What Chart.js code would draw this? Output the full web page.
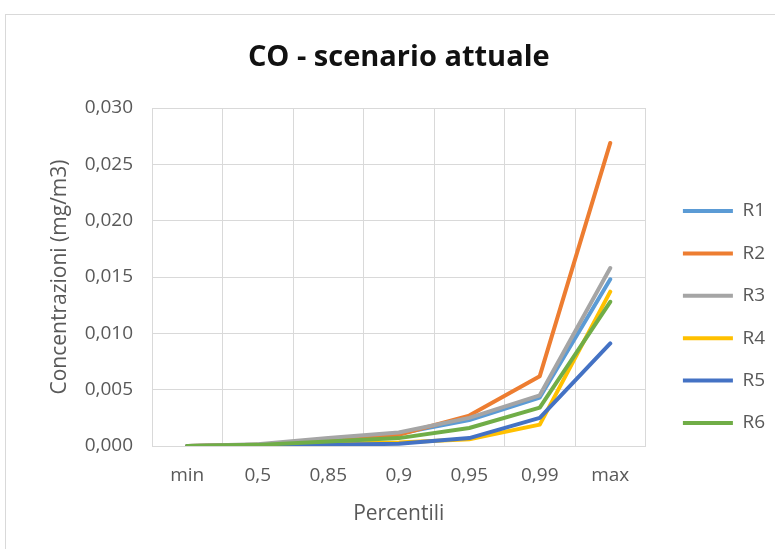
<!DOCTYPE html>
<html>
<head>
<meta charset="utf-8">
<script src="https://cdn.jsdelivr.net/npm/chart.js@4/dist/chart.umd.min.js"></script>
<style>
  html, body { margin: 0; padding: 0; background: #ffffff; overflow: hidden; }
  #frame { position: absolute; left: 5px; top: 14px; width: 775px; height: 540px;
           border-top: 1px solid #d9d9d9; border-left: 1px solid #d9d9d9; background: #fff; }
  #c { position: absolute; left: 0; top: 0; }
</style>
</head>
<body>
<div id="frame"><canvas id="c" width="769" height="534"></canvas></div>
<script>
const chartTitle = 'CO - scenario attuale';
const xTitle = 'Percentili';
const yTitle = 'Concentrazioni (mg/m3)';
const categories = ['min', '0,5', '0,85', '0,9', '0,95', '0,99', 'max'];
const seriesNames = ['R1', 'R2', 'R3', 'R4', 'R5', 'R6'];
const seriesColors = ['#5B9BD5', '#ED7D31', '#A5A5A5', '#FFC000', '#4472C4', '#70AD47'];
const R1 = [0, 0.0001, 0.0006, 0.0011, 0.0023, 0.0043, 0.0148];
const R2 = [0, 0.0001, 0.0005, 0.0010, 0.0027, 0.0062, 0.0269];
const R3 = [0, 0.00015, 0.0007, 0.0012, 0.0025, 0.0045, 0.0158];
const R4 = [0, 0.00005, 0.0002, 0.0003, 0.0006, 0.0019, 0.0137];
const R5 = [0, 0.00005, 0.0001, 0.0002, 0.0007, 0.0025, 0.0091];
const R6 = [0, 0.0001, 0.0004, 0.0007, 0.0016, 0.0034, 0.0128];
const seriesValues = [R1, R2, R3, R4, R5, R6];
const yMin = 0, yMax = 0.030, yStep = 0.005;

const FONT = '"Open Sans", "Noto Sans", sans-serif';
const TXT = '#595959';
const GRID = '#d9d9d9';

const datasets = seriesNames.map((n, i) => ({
  label: n,
  data: seriesValues[i],
  borderColor: seriesColors[i],
  backgroundColor: seriesColors[i],
  borderWidth: 4,
  pointRadius: 0,
  pointHoverRadius: 0,
  tension: 0,
  fill: false,
  borderCapStyle: 'round',
  borderJoinStyle: 'round',
  order: seriesNames.length - i
}));

new Chart(document.getElementById('c'), {
  type: 'line',
  data: { labels: categories, datasets },
  options: {
    responsive: false,
    animation: false,
    events: [],
    layout: { padding: { left: 0, right: 0, top: 0, bottom: 0 } },
    plugins: {
      tooltip: { enabled: false },
      title: {
        display: true,
        text: chartTitle,
        color: '#111111',
        font: { family: FONT, size: 29, weight: 'bold', lineHeight: 1.2 },
        padding: { top: 25.6, bottom: 32.6 },
        fullSize: false
      },
      legend: {
        display: true,
        position: 'right',
        align: 'center',
        title: { display: true, text: ' ', padding: { top: 23, bottom: 23 }, font: { family: FONT, size: 20, lineHeight: 1.2 } },
        labels: {
          usePointStyle: true,
          pointStyle: 'line',
          pointStyleWidth: 50,
          padding: 23.4,
          color: TXT,
          font: { family: FONT, size: 19 },
          sort: (a, b) => a.datasetIndex - b.datasetIndex
        }
      }
    },
    scales: {
      x: {
        type: 'category',
        offset: true,
        grid: { display: true, offset: true, color: GRID, lineWidth: 1, drawTicks: false },
        border: { display: true, color: GRID },
        ticks: { color: TXT, font: { family: FONT, size: 19 }, padding: 18, maxRotation: 0, autoSkip: false },
        title: { display: true, text: xTitle, color: TXT, font: { family: FONT, size: 21, lineHeight: 1.2 }, padding: { top: 0, bottom: 22.4 } },
        afterFit: s => { s.height = 103; }
      },
      y: {
        min: yMin, max: yMax,
        grid: { color: GRID, lineWidth: 1, drawTicks: false },
        border: { display: false },
        ticks: { stepSize: yStep, color: TXT, font: { family: FONT, size: 19 }, padding: 19,
                 callback: v => v.toFixed(3).replace('.', ',') },
        title: { display: true, text: yTitle, color: TXT, font: { family: FONT, size: 21, lineHeight: 1.2 }, padding: { top: 41.4, bottom: 0 } },
        afterFit: s => { s.width = 146; }
      },
      gap: {
        position: 'right',
        display: true,
        grid: { display: false, drawTicks: false },
        border: { display: false },
        ticks: { display: false },
        afterFit: s => { s.width = 14; }
      }
    }
  }
});
</script>
</body>
</html>
